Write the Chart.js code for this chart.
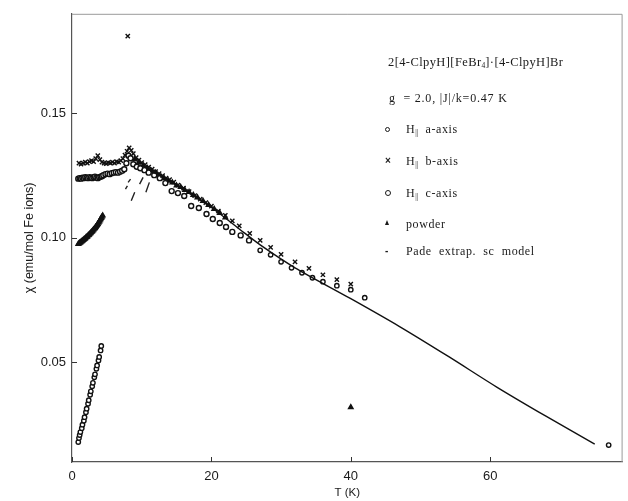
<!DOCTYPE html>
<html>
<head>
<meta charset="utf-8">
<script src="https://cdn.jsdelivr.net/npm/chart.js@4.4.1/dist/chart.umd.min.js"></script>
<style>
  body { margin: 0; background: #fff; }
  #wrap { position: relative; width: 628px; height: 501px; }
  #chart { position: absolute; left: 0; top: 0; }
  .note {
    position: absolute;
    font-family: "Liberation Serif", "DejaVu Serif", serif;
    font-size: 12px;
    letter-spacing: 0.6px;
    color: #1a1a1a;
    white-space: nowrap;
    line-height: 12px;
  }
  .note sub { font-size: 7.5px; vertical-align: -2px; letter-spacing: 0; }
  .mk { position: absolute; font-family: "Liberation Sans", sans-serif; color: #1a1a1a; line-height: 12px; font-weight: bold; }
  .ring { position: absolute; width: 3px; height: 3px; border: 1.3px solid #1a1a1a; border-radius: 50%; }
  .tri { position: absolute; width: 0; height: 0; border-left: 2.5px solid transparent; border-right: 2.5px solid transparent; border-bottom: 5px solid #1a1a1a; }
</style>
</head>
<body>
<div id="wrap">
  <canvas id="chart" width="628" height="501"></canvas>

  <div class="note" style="left:388px;top:56px;font-size:12.5px;letter-spacing:0.4px">2[4-ClpyH][FeBr<sub>4</sub>]·[4-ClpyH]Br</div>
  <div class="note" style="left:389px;top:92px;letter-spacing:0.8px">g&nbsp; = 2.0, |J|/k=0.47 K</div>

  <div class="ring" style="left:385px;top:127px"></div>
  <div class="note" style="left:406px;top:123px">H<sub>||</sub>&nbsp; a-axis</div>

  <div class="mk" style="left:385px;top:155px;font-size:10px">×</div>
  <div class="note" style="left:406px;top:155px">H<sub>||</sub>&nbsp; b-axis</div>

  <div class="ring" style="left:385px;top:190px;width:4px;height:4px"></div>
  <div class="note" style="left:406px;top:187px">H<sub>||</sub>&nbsp; c-axis</div>

  <div class="tri" style="left:385px;top:220px"></div>
  <div class="note" style="left:406px;top:218px">powder</div>

  <div class="mk" style="left:385px;top:245px;font-size:10px">-</div>
  <div class="note" style="left:406px;top:245px">Pade&nbsp; extrap.&nbsp; sc&nbsp; model</div>
</div>

<script>
// axis limits and ticks
const xRange = [0, 79];
const yRange = [0.01, 0.19];
const xTicks = [0, 20, 40, 60];
const yTicks = [0.05, 0.10, 0.15];

// H || a-axis (small circles)
const aAxisT = [0.9, 1.0, 1.1, 1.2, 1.4, 1.5, 1.7, 1.8, 2.0, 2.1, 2.3, 2.4, 2.6, 2.7, 2.9, 3.0, 3.2, 3.3, 3.5, 3.6, 3.8, 3.9, 4.1, 4.2,
  27.0, 28.5, 30.0, 31.5, 33.0, 34.5, 36.0, 38.0, 40.0, 42.0, 77.0];
const aAxisChi = [0.0180, 0.0196, 0.0208, 0.0220, 0.0236, 0.0250, 0.0266, 0.0280, 0.0300, 0.0314, 0.0334, 0.0348, 0.0370, 0.0384, 0.0404, 0.0418, 0.0440, 0.0452, 0.0474, 0.0488, 0.0508, 0.0522, 0.0548, 0.0566,
  0.0950, 0.0932, 0.0904, 0.0880, 0.0860, 0.0840, 0.0824, 0.0808, 0.0792, 0.0760, 0.0168];

// H || b-axis (crosses)
const bAxisT = [1.0, 1.3, 1.6, 1.9, 2.2, 2.5, 2.8, 3.1, 3.4, 3.7, 4.0, 4.3, 4.6, 4.9, 5.2, 5.5, 5.8, 6.1, 6.4, 6.7, 7.0, 7.3, 7.6, 7.9, 8.0,
  8.2, 8.5, 8.8, 9.2, 9.6, 10.0, 10.5, 11.0, 11.5, 12.0, 12.5, 13.0, 13.5, 14.0, 14.6, 15.2, 16.0, 16.8, 17.6, 18.4, 19.2, 20.0,
  21.0, 22.0, 23.0, 24.0, 25.5, 27.0, 28.5, 30.0, 32.0, 34.0, 36.0, 38.0, 40.0];
const bAxisChi = [0.1300, 0.1296, 0.1300, 0.1304, 0.1300, 0.1306, 0.1310, 0.1306, 0.1318, 0.1330, 0.1314, 0.1304, 0.1300, 0.1298, 0.1302, 0.1300, 0.1304, 0.1300, 0.1306, 0.1304, 0.1310, 0.1318, 0.1332, 0.1348, 0.1810,
  0.1362, 0.1352, 0.1338, 0.1322, 0.1312, 0.1302, 0.1294, 0.1284, 0.1276, 0.1266, 0.1258, 0.1250, 0.1240, 0.1234, 0.1224, 0.1212, 0.1200, 0.1186, 0.1170, 0.1156, 0.1142, 0.1128,
  0.1108, 0.1090, 0.1068, 0.1048, 0.1018, 0.0990, 0.0962, 0.0934, 0.0904, 0.0878, 0.0852, 0.0832, 0.0814];

// H || c-axis (circles)
const cAxisT = [0.9, 1.1, 1.3, 1.5, 1.7, 1.9, 2.1, 2.3, 2.5, 2.7, 2.9, 3.1, 3.3, 3.5, 3.7, 3.9, 4.1, 4.3, 4.5, 4.8, 5.1, 5.4, 5.7, 6.0, 6.3, 6.6,
  6.9, 7.2, 7.5, 7.8, 8.1, 8.4, 8.8, 9.3, 9.8, 10.4, 11.0, 11.8, 12.6, 13.4, 14.3, 15.2, 16.1, 17.1, 18.2, 19.3, 20.2, 21.2, 22.1, 23.0, 24.2, 25.4];
const cAxisChi = [0.1238, 0.1240, 0.1238, 0.1242, 0.1240, 0.1244, 0.1242, 0.1240, 0.1244, 0.1242, 0.1240, 0.1244, 0.1246, 0.1242, 0.1240, 0.1244, 0.1246, 0.1248, 0.1252, 0.1256, 0.1258, 0.1256, 0.1260, 0.1262, 0.1264, 0.1262,
  0.1266, 0.1270, 0.1276, 0.1300, 0.1330, 0.1320, 0.1296, 0.1286, 0.1280, 0.1272, 0.1262, 0.1252, 0.1240, 0.1220, 0.1188, 0.1180, 0.1168, 0.1128, 0.1120, 0.1096, 0.1076, 0.1060, 0.1044, 0.1024, 0.1010, 0.0990];

// powder (triangles)
const powderT = [0.9, 1.0, 1.1, 1.2, 1.3, 1.4, 1.5, 1.6, 1.7, 1.8, 1.9, 2.0, 2.1, 2.2, 2.3, 2.4, 2.5, 2.6, 2.7, 2.8, 2.9, 3.0, 3.1, 3.2, 3.3, 3.4, 3.5, 3.6, 3.7, 3.8, 3.9, 4.0, 4.1, 4.2, 4.3, 4.4,
  9.0, 9.6, 10.2, 10.8, 11.4, 12.0, 12.6, 13.2, 13.8, 14.4, 15.0, 15.6, 16.2, 16.8, 17.4, 18.0, 18.8, 19.6, 20.4, 21.2, 22.0, 40.0];
const powderChi = [0.0976, 0.0978, 0.0981, 0.0982, 0.0985, 0.0987, 0.0989, 0.0992, 0.0994, 0.0996, 0.0999, 0.1002, 0.1004, 0.1006, 0.1010, 0.1012, 0.1015, 0.1018, 0.1021, 0.1024, 0.1027, 0.1030, 0.1034, 0.1037, 0.1040, 0.1044, 0.1048, 0.1052, 0.1056, 0.1061, 0.1065, 0.1070, 0.1075, 0.1080, 0.1085, 0.1090,
  0.1316, 0.1304, 0.1290, 0.1280, 0.1268, 0.1262, 0.1248, 0.1240, 0.1230, 0.1222, 0.1210, 0.1204, 0.1192, 0.1184, 0.1172, 0.1162, 0.1148, 0.1132, 0.1116, 0.1100, 0.1082, 0.0320];

// Pade extrapolation, sc model (solid curve)
const padeT = [9.5, 11, 14, 17, 20, 24, 27, 32, 40, 47, 54, 61, 68, 75];
const padeChi = [0.1310, 0.1276, 0.1228, 0.1176, 0.1122, 0.1036, 0.0972, 0.0880, 0.0756, 0.0644, 0.0524, 0.0400, 0.0284, 0.0172];

// short diverging Pade branches below the peak (null = gap)
const padeBranchT = [8.05, 8.4, null, 7.67, 7.95, null, 8.5, 9.0, null, 9.7, 10.2, null, 10.6, 11.1];
const padeBranchChi = [0.1223, 0.1236, null, 0.1196, 0.1209, null, 0.1149, 0.1183, null, 0.1216, 0.1243, null, 0.1183, 0.1223];

const toPoints = (xs, ys) => xs.map((x, i) => ({ x: x === null ? NaN : x, y: ys[i] }));

// frame: faded top/right edges and inward tick marks
const framePlugin = {
  id: 'frame',
  afterDraw(chart) {
    const { ctx, chartArea: a, scales } = chart;
    ctx.save();
    ctx.lineWidth = 1;
    ctx.strokeStyle = '#9a9a9a';
    ctx.beginPath();
    ctx.moveTo(a.left, a.top + 0.5);
    ctx.lineTo(a.right - 0.5, a.top + 0.5);
    ctx.lineTo(a.right - 0.5, a.bottom);
    ctx.stroke();

    ctx.strokeStyle = '#333';
    ctx.beginPath();
    xTicks.forEach(v => {
      const px = Math.round(scales.x.getPixelForValue(v)) + 0.5;
      ctx.moveTo(px, a.bottom);
      ctx.lineTo(px, a.bottom - 5);
    });
    yTicks.forEach(v => {
      const py = Math.round(scales.y.getPixelForValue(v)) + 0.5;
      ctx.moveTo(a.left, py);
      ctx.lineTo(a.left + 5, py);
    });
    ctx.stroke();
    ctx.restore();
  }
};

const scatterSet = (label, data, style, radius, fill) => ({
  label,
  data,
  showLine: false,
  pointStyle: style,
  pointRadius: radius,
  pointBorderWidth: 1.4,
  pointBorderColor: '#111',
  pointBackgroundColor: fill,
  borderColor: '#111',
  backgroundColor: fill
});

new Chart(document.getElementById('chart'), {
  type: 'scatter',
  data: {
    datasets: [
      {
        label: 'Pade extrap. sc model',
        data: toPoints(padeT, padeChi),
        showLine: true,
        borderColor: '#111',
        borderWidth: 1.4,
        pointRadius: 0,
        tension: 0.3
      },
      {
        label: 'Pade branches',
        data: toPoints(padeBranchT, padeBranchChi),
        showLine: true,
        spanGaps: false,
        borderColor: '#222',
        borderWidth: 1.4,
        pointRadius: 0
      },
      scatterSet('H|| a-axis', toPoints(aAxisT, aAxisChi), 'circle', 2.2, '#fff'),
      scatterSet('H|| b-axis', toPoints(bAxisT, bAxisChi), 'crossRot', 3, '#111'),
      scatterSet('H|| c-axis', toPoints(cAxisT, cAxisChi), 'circle', 2.5, '#fff'),
      scatterSet('powder', toPoints(powderT, powderChi), 'triangle', 2.6, '#111')
    ]
  },
  options: {
    responsive: false,
    animation: false,
    layout: { padding: { top: 12, right: 1, left: 0, bottom: 0 } },
    plugins: {
      legend: { display: false },
      tooltip: { enabled: false }
    },
    scales: {
      x: {
        type: 'linear',
        min: xRange[0],
        max: xRange[1],
        afterBuildTicks: scale => { scale.ticks = xTicks.map(v => ({ value: v })); },
        afterFit: scale => { scale.height = 39; },
        grid: { display: true, drawOnChartArea: false, drawTicks: false },
        border: { display: true, color: '#555', width: 1.2 },
        ticks: {
          padding: 7,
          color: '#1a1a1a',
          font: { family: 'Liberation Sans', size: 13 },
          maxRotation: 0
        },
        title: {
          display: true,
          text: 'T (K)',
          color: '#1a1a1a',
          font: { family: 'Liberation Sans', size: 11.5 },
          padding: { top: 0, bottom: 1.5 }
        }
      },
      y: {
        type: 'linear',
        min: yRange[0],
        max: yRange[1],
        afterBuildTicks: scale => { scale.ticks = yTicks.map(v => ({ value: v })); },
        afterFit: scale => { scale.width = 72; },
        grid: { display: true, drawOnChartArea: false, drawTicks: false },
        border: { display: true, color: '#555', width: 1.2 },
        ticks: {
          padding: 6,
          color: '#1a1a1a',
          font: { family: 'Liberation Sans', size: 13 },
          callback: v => v.toFixed(2)
        },
        title: {
          display: true,
          text: 'χ (emu/mol Fe ions)',
          color: '#1a1a1a',
          font: { family: 'Liberation Sans', size: 12.5 },
          padding: { top: 22, bottom: 0 }
        }
      }
    }
  },
  plugins: [framePlugin]
});
</script>
</body>
</html>
